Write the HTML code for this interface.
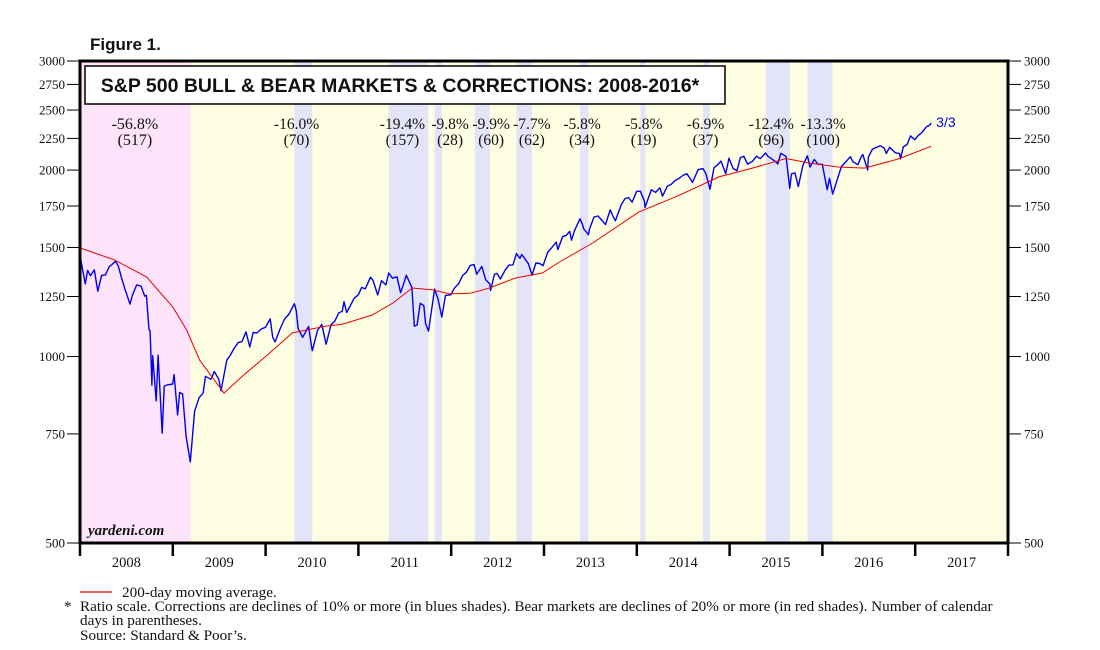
<!DOCTYPE html>
<html><head><meta charset="utf-8"><style>
html,body{margin:0;padding:0;background:#fff;width:1100px;height:650px;overflow:hidden}
svg{display:block}
text{font-family:"Liberation Serif",serif;fill:#111}
</style></head><body>
<svg id="chart" width="1100" height="650" viewBox="0 0 1100 650"></svg>
<script>
const tickValues=[500,750,1000,1250,1500,1750,2000,2250,2500,2750,3000];
const years=[2008,2009,2010,2011,2012,2013,2014,2015,2016,2017];
const bearPeriods=[["2008-01-01","2009-03-09"]];
const bearLabelDates=["2008-08-04"];
const corrStart=["2010-04-23","2011-04-29","2011-10-27","2012-04-02","2012-09-14","2013-05-21","2014-01-15","2014-09-18","2015-05-21","2015-11-03"];
const corrEnd=["2010-07-02","2011-10-03","2011-11-25","2012-06-01","2012-11-15","2013-06-24","2014-02-03","2014-10-15","2015-08-25","2016-02-11"];
const corrLabelDates=["2010-05-01","2011-06-22","2011-12-27","2012-06-06","2012-11-14","2013-05-29","2014-01-28","2014-09-28","2015-06-13","2016-01-04"];
const corrPct=["-16.0%","-19.4%","-9.8%","-9.9%","-7.7%","-5.8%","-5.8%","-6.9%","-12.4%","-13.3%"];
const corrDays=["(70)","(157)","(28)","(60)","(62)","(34)","(19)","(37)","(96)","(100)"];
const bearPct=["-56.8%"];
const bearDays=["(517)"];
const spxDates=["2008-01-02","2008-01-10","2008-01-22","2008-01-31","2008-02-12","2008-02-27","2008-03-10","2008-03-25","2008-04-10","2008-04-25","2008-05-05","2008-05-19","2008-05-30","2008-06-12","2008-06-27","2008-07-15","2008-07-25","2008-08-11","2008-08-28","2008-09-12","2008-09-19","2008-09-29","2008-10-03","2008-10-10","2008-10-13","2008-10-27","2008-11-04","2008-11-20","2008-11-28","2008-12-10","2008-12-31","2009-01-06","2009-01-20","2009-01-28","2009-02-09","2009-02-23","2009-03-09","2009-03-26","2009-04-13","2009-04-29","2009-05-08","2009-05-29","2009-06-12","2009-06-30","2009-07-08","2009-07-31","2009-08-14","2009-08-28","2009-09-15","2009-09-30","2009-10-15","2009-10-30","2009-11-13","2009-11-27","2009-12-15","2009-12-31","2010-01-19","2010-01-29","2010-02-08","2010-02-26","2010-03-15","2010-03-31","2010-04-23","2010-04-30","2010-05-07","2010-05-25","2010-06-18","2010-06-29","2010-07-02","2010-07-23","2010-08-09","2010-08-26","2010-09-15","2010-09-30","2010-10-15","2010-10-29","2010-11-05","2010-11-16","2010-12-15","2010-12-31","2011-01-14","2011-01-28","2011-02-18","2011-02-28","2011-03-16","2011-03-31","2011-04-18","2011-04-29","2011-05-13","2011-05-31","2011-06-15","2011-06-30","2011-07-07","2011-07-29","2011-08-08","2011-08-19","2011-08-31","2011-09-15","2011-09-22","2011-10-03","2011-10-27","2011-11-10","2011-11-25","2011-12-09","2011-12-30","2012-01-13","2012-01-31","2012-02-15","2012-02-29","2012-03-15","2012-03-30","2012-04-10","2012-04-30","2012-05-15","2012-05-31","2012-06-04","2012-06-19","2012-06-29","2012-07-12","2012-07-31","2012-08-15","2012-08-31","2012-09-14","2012-09-28","2012-10-05","2012-10-31","2012-11-15","2012-11-30","2012-12-14","2012-12-28","2013-01-15","2013-01-31","2013-02-19","2013-02-25","2013-03-14","2013-03-28","2013-04-11","2013-04-18","2013-04-30","2013-05-21","2013-05-31","2013-06-05","2013-06-24","2013-06-28","2013-07-15","2013-07-31","2013-08-15","2013-08-30","2013-09-18","2013-09-30","2013-10-08","2013-10-31","2013-11-15","2013-11-29","2013-12-13","2013-12-31","2014-01-15","2014-01-31","2014-02-03","2014-02-28","2014-03-14","2014-03-31","2014-04-11","2014-04-30","2014-05-15","2014-05-30","2014-06-13","2014-06-30","2014-07-15","2014-07-31","2014-08-07","2014-08-29","2014-09-18","2014-09-30","2014-10-15","2014-10-31","2014-11-14","2014-11-28","2014-12-16","2014-12-29","2015-01-15","2015-01-30","2015-02-13","2015-02-27","2015-03-11","2015-03-31","2015-04-15","2015-04-30","2015-05-21","2015-05-29","2015-06-15","2015-06-30","2015-07-08","2015-07-20","2015-08-10","2015-08-25","2015-08-31","2015-09-15","2015-09-28","2015-10-15","2015-11-03","2015-11-13","2015-11-30","2015-12-15","2015-12-31","2016-01-20","2016-01-29","2016-02-11","2016-02-29","2016-03-15","2016-03-31","2016-04-20","2016-04-29","2016-05-19","2016-05-31","2016-06-08","2016-06-27","2016-06-30","2016-07-15","2016-08-15","2016-08-31","2016-09-09","2016-09-22","2016-10-14","2016-10-31","2016-11-04","2016-11-15","2016-11-30","2016-12-13","2016-12-30","2017-01-13","2017-01-26","2017-02-15","2017-02-28","2017-03-03"];
const spxValues=[1447,1390,1310,1378,1350,1380,1275,1352,1355,1397,1408,1426,1400,1340,1280,1215,1257,1305,1300,1252,1255,1106,1100,899,1003,848,1005,752,896,900,903,935,805,875,870,743,676,816,858,873,929,919,946,919,880,987,1004,1029,1053,1057,1096,1036,1094,1091,1108,1115,1150,1074,1056,1104,1150,1169,1217,1187,1110,1074,1118,1041,1022,1103,1127,1047,1125,1141,1176,1183,1226,1178,1242,1258,1293,1286,1343,1327,1257,1326,1305,1364,1338,1345,1268,1321,1353,1292,1120,1124,1219,1209,1130,1099,1285,1239,1158,1255,1258,1289,1312,1351,1366,1402,1408,1358,1398,1330,1310,1278,1357,1362,1334,1379,1405,1406,1466,1441,1461,1412,1353,1416,1413,1402,1472,1498,1530,1488,1563,1569,1593,1541,1598,1669,1631,1608,1573,1606,1680,1686,1661,1633,1725,1682,1656,1757,1798,1806,1775,1848,1848,1783,1741,1859,1841,1872,1815,1884,1897,1924,1936,1960,1973,1931,1910,2003,2011,1972,1862,2018,2039,2068,1973,2090,2011,1995,2096,2105,2044,2068,2106,2086,2131,2107,2085,2063,2046,2129,2104,1868,1972,1979,1881,2033,2109,2023,2080,2043,2044,1859,1940,1829,1932,2027,2060,2102,2065,2040,2097,2119,2000,2099,2161,2190,2171,2127,2177,2133,2126,2085,2180,2199,2271,2239,2275,2297,2350,2364,2383];
const maDates=["2008-01-02","2008-05-15","2008-09-20","2009-01-01","2009-02-25","2009-04-15","2009-07-20","2009-10-01","2010-01-01","2010-04-15","2010-08-25","2010-11-01","2011-02-25","2011-05-15","2011-07-30","2011-10-20","2011-12-25","2012-03-15","2012-05-30","2012-09-10","2012-12-25","2013-03-01","2013-07-10","2014-01-08","2014-06-01","2014-11-20","2015-03-30","2015-08-10","2015-11-10","2016-03-01","2016-06-15","2016-10-25","2017-03-03"];
const maValues=[1497,1432,1344,1202,1104,987,873,930,1000,1092,1120,1128,1167,1220,1290,1281,1262,1265,1290,1339,1364,1421,1525,1711,1810,1950,2015,2088,2053,2023,2015,2084,2185];

const X0=80,X1=1008,Y0=61,Y1=543,YW=(X1-X0)/10;
function toYear(d){const p=d.split("-").map(Number);return p[0]+(p[1]-1)/12+(p[2]-1)/365;}
function xs(d){return X0+(toYear(d)-2008)*YW;}
function ys(v){return Y0+(Y1-Y0)*Math.log(3000/v)/Math.log(3000/500);}
const NS="http://www.w3.org/2000/svg";
const svg=document.getElementById("chart");
function el(tag,attrs,parent){const e=document.createElementNS(NS,tag);for(const k in attrs)e.setAttribute(k,attrs[k]);(parent||svg).appendChild(e);return e;}

let bg=el("rect",{x:X0,y:Y0,width:X1-X0,height:Y1-Y0,fill:"#fefee3"});


bearPeriods.forEach((p,i)=>{
  const x1=Math.max(X0,xs(p[0])),x2=xs(p[1]);
  const r=el("rect",{x:x1,y:Y0,width:x2-x1,height:Y1-Y0,fill:"#fde4fa"});
  
  
  const lx=xs(bearLabelDates[i]);
  const t=el("text",{x:lx,y:129,"text-anchor":"middle","font-size":"16"});t.textContent=bearPct[i];
  
  
  const t2=el("text",{x:lx,y:145,"text-anchor":"middle","font-size":"16"});t2.textContent=bearDays[i];
  
  
});
corrStart.forEach((s,i)=>{
  const x1=xs(s),x2=xs(corrEnd[i]);
  const r=el("rect",{x:x1,y:Y0,width:Math.max(5,x2-x1),height:Y1-Y0,fill:"#e4e4f8"});
  
  
  const lx=xs(corrLabelDates[i]);
  const t=el("text",{x:lx,y:129,"text-anchor":"middle","font-size":"15.5"});t.textContent=corrPct[i];
  
  
  const t2=el("text",{x:lx,y:145,"text-anchor":"middle","font-size":"15.5"});t2.textContent=corrDays[i];
  
  
});

let tb=el("rect",{x:85,y:66,width:640,height:38,fill:"#fff",stroke:"#000","stroke-width":"1.5"});


let tt=el("text",{x:400,y:92,"text-anchor":"middle","font-size":"19.5","font-weight":"bold",style:"font-family:'Liberation Sans',sans-serif"});
tt.textContent="S&P 500 BULL & BEAR MARKETS & CORRECTIONS: 2008-2016*";



let d="";
spxDates.forEach((s,i)=>{d+=(i?"L":"M")+xs(s).toFixed(1)+","+ys(spxValues[i]).toFixed(1);});
let sl=el("path",{d:d,fill:"none",stroke:"#0000ee","stroke-width":"1.4","stroke-linejoin":"round"});


let m="";
maDates.forEach((s,i)=>{m+=(i?"L":"M")+xs(s).toFixed(1)+","+ys(maValues[i]).toFixed(1);});
let ml=el("path",{d:m,fill:"none",stroke:"#ee0000","stroke-width":"1"});


let lbl=el("text",{x:xs(spxDates[spxDates.length-1])+5,y:ys(spxValues[spxValues.length-1])+4,"font-size":"14",style:"font-family:'Liberation Sans',sans-serif;fill:#0000ee"});
lbl.textContent="3/3";



let yd=el("text",{x:88,y:535,"font-size":"15","font-style":"italic","font-weight":"bold"});yd.textContent="yardeni.com";



let fr=el("rect",{x:X0,y:Y0,width:X1-X0,height:Y1-Y0,fill:"none",stroke:"#000","stroke-width":"3"});



tickValues.forEach(v=>{
  const y=ys(v);
  const l=el("line",{x1:67,x2:X0,y1:y,y2:y,stroke:"#000","stroke-width":"1"});
  
  
  const r=el("line",{x1:X1,x2:1021,y1:y,y2:y,stroke:"#000","stroke-width":"1"});
  
  
  const t=el("text",{x:65,y:y+4.5,"text-anchor":"end","font-size":"13"});t.textContent=v;
  
  
  const t2=el("text",{x:1024,y:y+4.5,"font-size":"13"});t2.textContent=v;
  
  
});
years.forEach((yr,i)=>{
  const x=X0+i*YW;
  const l=el("line",{x1:x,x2:x,y1:Y1,y2:556,stroke:"#000","stroke-width":"2.5"});
  
  
  const t=el("text",{x:x+YW/2,y:567,"text-anchor":"middle","font-size":"14.5"});t.textContent=yr;
  
  
});
let lt=el("line",{x1:X1,x2:X1,y1:Y1,y2:556,stroke:"#000","stroke-width":"2.5"});



let fg=el("text",{x:90,y:50,"font-size":"17","font-weight":"bold",style:"font-family:'Liberation Sans',sans-serif"});fg.textContent="Figure 1.";


let ll=el("line",{x1:80,x2:112,y1:592,y2:592,stroke:"#ee0000","stroke-width":"1.3"});


const foot=[[122,597,"200-day moving average.","legend-ma-label"],[64,611,"*","footnote-star"],[80,611,"Ratio scale. Corrections are declines of 10% or more (in blues shades). Bear markets are declines of 20% or more (in red shades). Number of calendar","footnote-line-1"],[80,625,"days in parentheses.","footnote-line-2"],[80,640,"Source: Standard & Poor\u2019s.","source-note"]];
foot.forEach(f=>{const t=el("text",{x:f[0],y:f[1],"font-size":"15.2"});t.textContent=f[2];
  
  });
</script>
</body></html>
